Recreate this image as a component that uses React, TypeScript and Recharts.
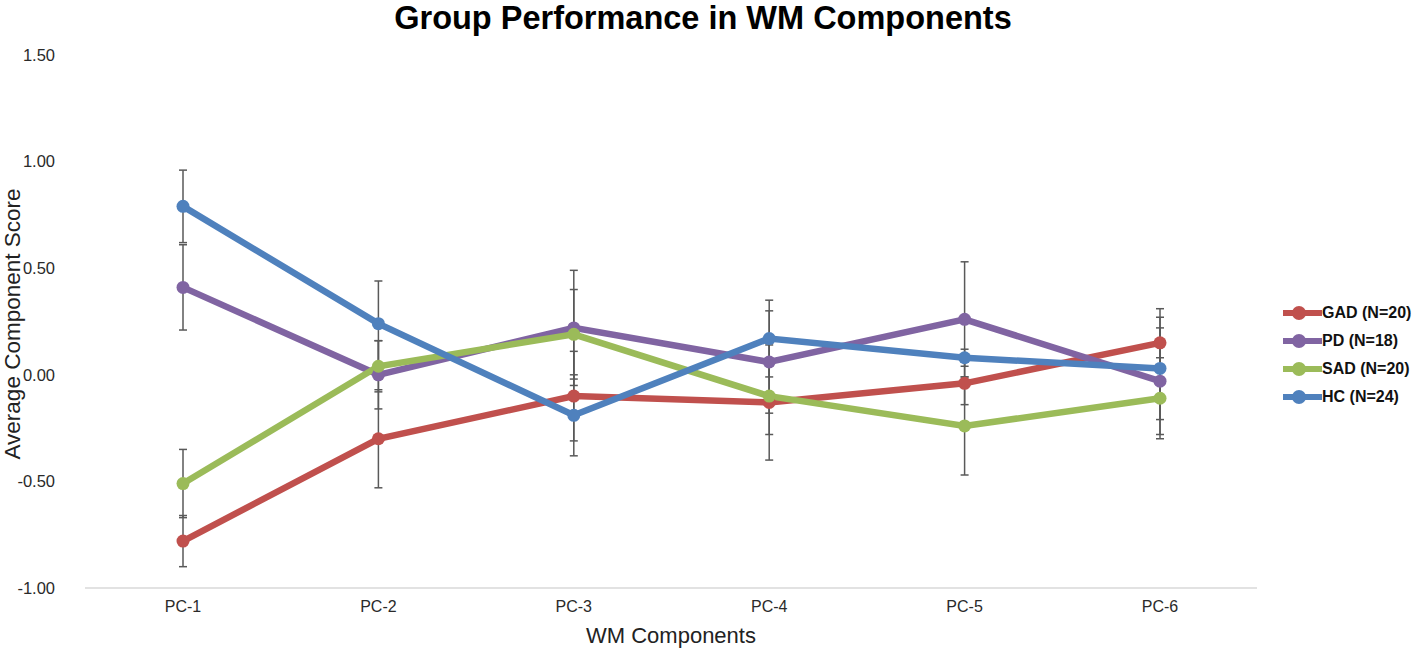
import React from 'react';
import { LineChart, Line, XAxis, YAxis, ErrorBar, Legend, Label } from 'recharts';

const categories = ['PC-1', 'PC-2', 'PC-3', 'PC-4', 'PC-5', 'PC-6'];

const gadValues = [-0.78, -0.3, -0.1, -0.13, -0.04, 0.15];
const gadErrors = [0.12, 0.23, 0.21, 0.27, 0.1, 0.16];

const pdValues = [0.41, 0.0, 0.22, 0.06, 0.26, -0.03];
const pdErrors = [0.2, 0.16, 0.27, 0.24, 0.27, 0.25];

const sadValues = [-0.51, 0.04, 0.19, -0.1, -0.24, -0.11];
const sadErrors = [0.16, 0.12, 0.21, 0.18, 0.23, 0.19];

const hcValues = [0.79, 0.24, -0.19, 0.17, 0.08, 0.03];
const hcErrors = [0.17, 0.2, 0.19, 0.18, 0.04, 0.24];

const seriesNames = ['GAD (N=20)', 'PD (N=18)', 'SAD (N=20)', 'HC (N=24)'];
const seriesKeys = ['gad', 'pd', 'sad', 'hc'];
const seriesColors = ['#C0504D', '#8064A2', '#9BBB59', '#4F81BD'];

const yTicks = [-1, -0.5, 0, 0.5, 1, 1.5];

const titleText = 'Group Performance in WM Components';
const xTitle = 'WM Components';
const yTitle = 'Average Component Score';

const data = categories.map((name, i) => ({
  name,
  gad: gadValues[i],
  gadErr: gadErrors[i],
  pd: pdValues[i],
  pdErr: pdErrors[i],
  sad: sadValues[i],
  sadErr: sadErrors[i],
  hc: hcValues[i],
  hcErr: hcErrors[i],
}));

const FONT = '"Liberation Sans", Arial, Helvetica, sans-serif';

const renderLegend = (props: any) => {
  const payload = [...(props.payload || [])].sort(
    (a: any, b: any) => seriesNames.indexOf(a.value) - seriesNames.indexOf(b.value)
  );
  return (
    <div style={{ fontFamily: FONT }}>
      {payload.map((entry: any, i: number) => (
        <div key={i} style={{ display: 'flex', alignItems: 'center', height: 28 }}>
          <svg width={39} height={16} style={{ display: 'block' }}>
            <line x1={0} y1={8} x2={39} y2={8} stroke={entry.color} strokeWidth={6} />
            <circle cx={16} cy={8} r={7} fill={entry.color} />
          </svg>
          <span style={{ fontWeight: 'bold', fontSize: 16, color: '#111', lineHeight: '16px' }}>{entry.value}</span>
        </div>
      ))}
    </div>
  );
};

export default function App() {
  return (
    <div style={{ position: 'absolute', left: 0, top: 0, width: 1417, height: 652, background: '#fff' }}>
      <div
        style={{
          position: 'absolute',
          left: 0,
          top: 0,
          width: 1406,
          textAlign: 'center',
          fontFamily: FONT,
          fontWeight: 'bold',
          fontSize: 32.5,
          lineHeight: '37px',
          color: '#000',
          zIndex: 2,
        }}
      >
        {titleText}
      </div>
      <LineChart width={1417} height={652} data={data} margin={{ top: 55, right: 160, bottom: 0, left: 0 }}>
        <XAxis
          dataKey="name"
          height={64}
          padding={{ left: 98, right: 97 }}
          tickLine={false}
          tickSize={0}
          tickMargin={13}
          axisLine={{ stroke: '#D9D9D9', strokeWidth: 1.5 }}
          tick={{ fontSize: 16, fill: '#2a2a2a', fontFamily: FONT }}
        >
          <Label
            content={() => (
              <text x={671} y={643} textAnchor="middle" fontSize={22} fill="#222" fontFamily={FONT}>
                {xTitle}
              </text>
            )}
          />
        </XAxis>
        <YAxis
          width={85}
          domain={[-1, 1.5]}
          ticks={yTicks}
          interval={0}
          tickFormatter={(v: number) => v.toFixed(2)}
          axisLine={false}
          tickLine={false}
          tickSize={0}
          tickMargin={30}
          tick={{ fontSize: 16.5, fill: '#2a2a2a', fontFamily: FONT }}
        >
          <Label
            content={() => (
              <text
                x={20}
                y={324}
                textAnchor="middle"
                fontSize={22.5}
                fill="#222"
                fontFamily={FONT}
                transform="rotate(-90 20 324)"
              >
                {yTitle}
              </text>
            )}
          />
        </YAxis>
        <Legend
          layout="horizontal"
          align="center"
          verticalAlign="middle"
          itemSorter={null}
          content={renderLegend}
          wrapperStyle={{ left: 1283, top: 299, width: 134, height: 112 }}
        />
        {seriesKeys.map((key, i) => (
          <Line
            key={key}
            type="linear"
            dataKey={key}
            name={seriesNames[i]}
            stroke={seriesColors[i]}
            strokeWidth={6.5}
            dot={{ r: 6.5, fill: seriesColors[i], stroke: seriesColors[i], strokeWidth: 0 }}
            activeDot={false}
            isAnimationActive={false}
          >
            <ErrorBar dataKey={key + 'Err'} direction="y" width={4} stroke="#595959" strokeWidth={1.5} />
          </Line>
        ))}
      </LineChart>
    </div>
  );
}
